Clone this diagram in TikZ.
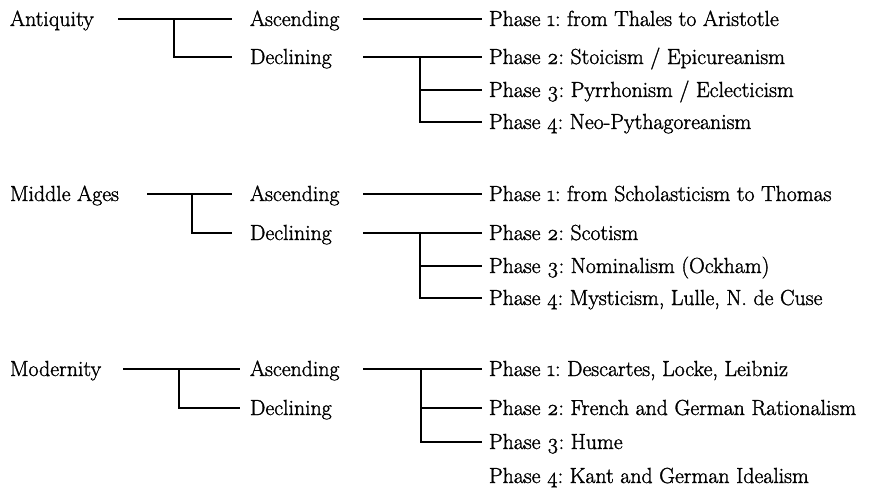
\documentclass[tikz,border=0pt]{standalone}
\usepackage{fontspec}
\setmainfont{Latin Modern Roman}[Numbers=OldStyle,RawFeature={embolden=1.4}]
\frenchspacing
\begin{document}
\begin{tikzpicture}[x=1pt,y=-1pt,
  lbl/.style={anchor=west,inner sep=0pt,outer sep=0pt,
    font=\fontsize{21.8pt}{24pt}\selectfont\frenchspacing,text height=17pt,text depth=3pt},
  conn/.style={line width=1.3pt,black}]
\useasboundingbox (0,0) rectangle (880,487);
% column guides
\coordinate (antS) at (118,0);
\coordinate (midS) at (147,0);
\coordinate (modS) at (123,0);
\coordinate (antV) at (174,0);
\coordinate (midV) at (192,0);
\coordinate (modV) at (179,0);
\coordinate (lvS) at (363,0);
\coordinate (lvV) at (420,0);
% ---------- Antiquity ----------
\node[lbl] (ant) at (10,19) {Antiquity};
\node[lbl] (ant-a) at (250,19) {Ascending};
\node[lbl] (ant-d) at (250,57) {Declining};
\node[lbl] (ant-p1) at (489,19) {Phase 1: from Thales to Aristotle};
\node[lbl] (ant-p2) at (489,57) {Phase 2: Stoicism / Epicureanism};
\node[lbl] (ant-p3) at (489,90) {Phase 3: Pyrrhonism / Eclecticism};
\node[lbl] (ant-p4) at (489,122) {Phase 4: Neo-Pythagoreanism};
\draw[conn] (ant.east -| antS) -- ([xshift=-18pt]ant-a.west);
\draw[conn] (ant.east -| antV) |- ([xshift=-18pt]ant-d.west);
\draw[conn] (ant-a.east -| lvS) -- ([xshift=-7pt]ant-p1.west);
\draw[conn] (ant-d.east -| lvS) -- ([xshift=-7pt]ant-p2.west);
\draw[conn] (ant-d.east -| lvV) |- ([xshift=-7pt]ant-p4.west);
\draw[conn] (ant-p3.west -| lvV) -- ([xshift=-7pt]ant-p3.west);
% ---------- Middle Ages ----------
\node[lbl] (mid) at (10,194) {Middle Ages};
\node[lbl] (mid-a) at (250,194) {Ascending};
\node[lbl] (mid-d) at (250,233) {Declining};
\node[lbl] (mid-p1) at (489,194) {Phase 1: from Scholasticism to Thomas};
\node[lbl] (mid-p2) at (489,233) {Phase 2: Scotism};
\node[lbl] (mid-p3) at (489,266) {Phase 3: Nominalism (Ockham)};
\node[lbl] (mid-p4) at (489,298) {Phase 4: Mysticism, Lulle, N. de Cuse};
\draw[conn] (mid.east -| midS) -- ([xshift=-18pt]mid-a.west);
\draw[conn] (mid.east -| midV) |- ([xshift=-18pt]mid-d.west);
\draw[conn] (mid-a.east -| lvS) -- ([xshift=-7pt]mid-p1.west);
\draw[conn] (mid-d.east -| lvS) -- ([xshift=-7pt]mid-p2.west);
\draw[conn] (mid-d.east -| lvV) |- ([xshift=-7pt]mid-p4.west);
\draw[conn] (mid-p3.west -| lvV) -- ([xshift=-7pt]mid-p3.west);
% ---------- Modernity ----------
\node[lbl] (mod) at (10,369) {Modernity};
\node[lbl] (mod-a) at (250,369) {Ascending};
\node[lbl] (mod-d) at (250,408) {Declining};
\node[lbl] (mod-p1) at (489,369) {Phase 1: Descartes, Locke, Leibniz};
\node[lbl] (mod-p2) at (489,408) {Phase 2: French and German Rationalism};
\node[lbl] (mod-p3) at (489,442) {Phase 3: Hume};
\node[lbl] (mod-p4) at (489,476) {Phase 4: Kant and German Idealism};
\draw[conn] (mod.east -| modS) -- ([xshift=-10pt]mod-a.west);
\draw[conn] (mod.east -| modV) |- ([xshift=-10pt]mod-d.west);
\draw[conn] (mod-a.east -| lvS) -- ([xshift=-7pt]mod-p1.west);
\draw[conn] ([xshift=1pt]mod-a.east -| lvV) |- ([xshift=-7pt]mod-p3.west);
\draw[conn] ([xshift=1pt]mod-p2.west -| lvV) -- ([xshift=-7pt]mod-p2.west);
\end{tikzpicture}
\end{document}
